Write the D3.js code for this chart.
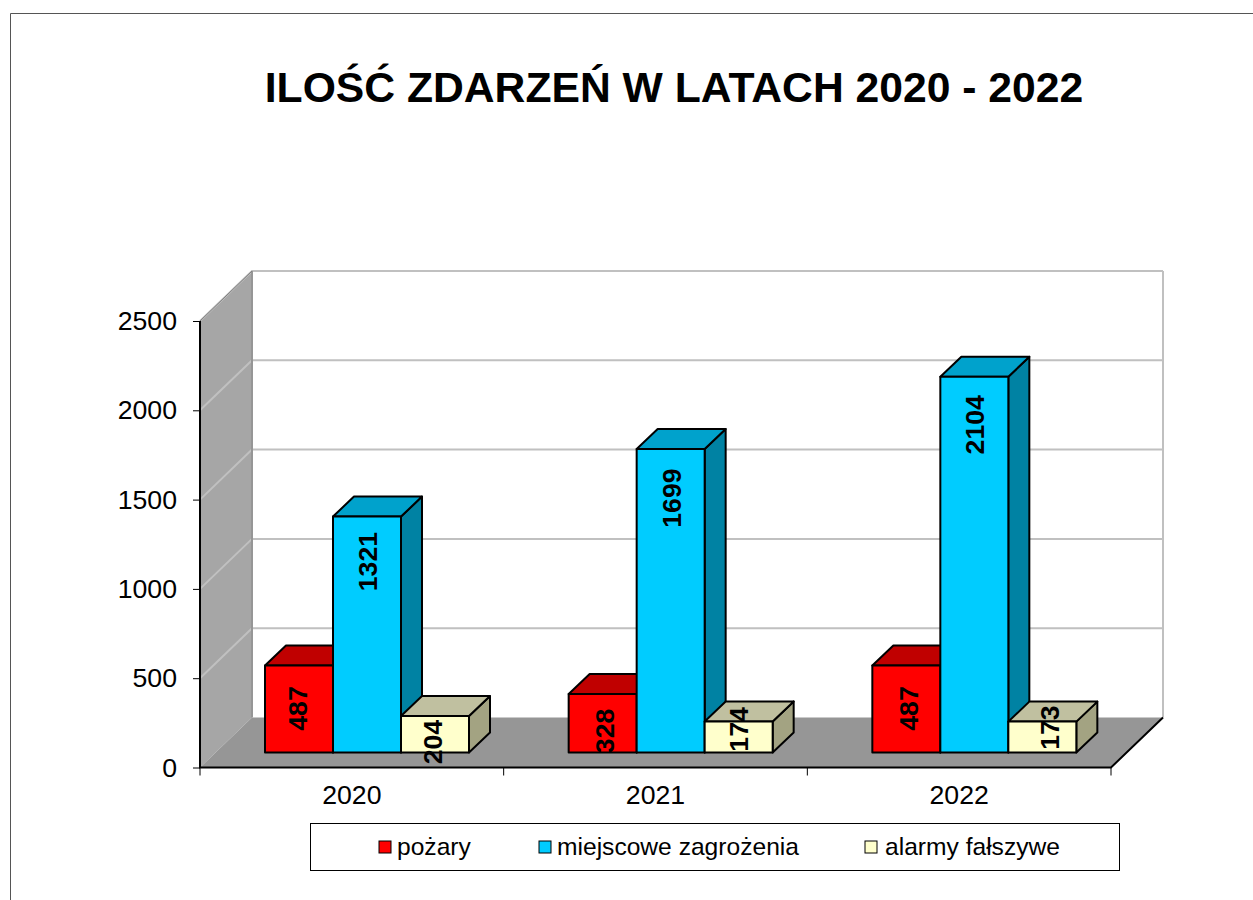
<!DOCTYPE html>
<html>
<head>
<meta charset="utf-8">
<script src="https://d3js.org/d3.v7.min.js"></script>
<style>
	body { margin: 0; background: #fff; overflow: hidden; }
	text { font-family: "Liberation Sans", Arial, sans-serif; fill: #000; }
	.axis path { display: none; }
	.axis text { font-size: 26.67px; }
	.axis line { stroke: #000; stroke-width: 1; }
</style>
</head>
<body>
<div id="vis"></div>
<script>
var years = ["2020", "2021", "2022"];
var seriesNames = ["pożary", "miejscowe zagrożenia", "alarmy fałszywe"];
var pozary = [487, 328, 487];
var miejscowe = [1321, 1699, 2104];
var alarmy = [204, 174, 173];
var yTicks = [0, 500, 1000, 1500, 2000, 2500];

var width = 1253,
	height = 900;

// how far below the bar top each rotated label sits, per series / year
var labelDrop = [[43, 37, 43], [45, 49, 48], [26, 8, 6]];
// the labels are not quite centred on their bars either
var labelShift = [[-1, 2, 2], [1, 1, 0], [-2, 0, 7]];

var faces = [
	{front: "#ff0000", top: "#c00000", side: "#a00000"},
	{front: "#00ccff", top: "#00a2cc", side: "#0082a3"},
	{front: "#ffffcc", top: "#c0c0a0", side: "#a3a382"}
];

var left = 200, right = 1111, bottom = 767.5, topY = 321;
var wallDx = 52, wallDy = -50;   // depth of the box
var barDx = 21, barDy = -20;     // depth of a bar
var barBase = 15;                // bars stand this far back on the floor

var x = d3.scaleBand().domain(years).range([left, right]);
var xInner = d3.scaleBand().domain(d3.range(3)).range([65, 269]);
var y = d3.scaleLinear().domain([0, 2500]).range([bottom, topY]);

var svg = d3.select("#vis").append("svg")
	.attr("width", width)
	.attr("height", height);

// outer frame, only top and left show
svg.append("path")
	.attr("d", "M10.5,900V13.5H1253")
	.attr("fill", "none")
	.attr("stroke", "#555")
	.attr("stroke-width", 1);

svg.append("text")
	.attr("x", 674)
	.attr("y", 102)
	.attr("text-anchor", "middle")
	.style("font-size", "42.67px")
	.style("font-weight", "bold")
	.text("ILOŚĆ ZDARZEŃ W LATACH 2020 - 2022");

// side wall
svg.append("path")
	.attr("d", d3.line()([[left, y(2500)], [left + wallDx, y(2500) + wallDy], [left + wallDx, y(0) + wallDy], [left, y(0)]]))
	.attr("fill", "#a6a6a6");

// floor
svg.append("path")
	.attr("d", d3.line()([[left, y(0)], [right, y(0)], [right + wallDx, y(0) + wallDy], [left + wallDx, y(0) + wallDy]]))
	.attr("fill", "#969696");

// gridlines, along the side wall and across the back
svg.append("g").selectAll("path")
	.data(yTicks.slice(1))
	.enter()
	.append("path")
	.attr("d", function(d) {
		return d3.line()([[left, y(d)], [left + wallDx, y(d) + wallDy], [right + wallDx, y(d) + wallDy]]);
	})
	.attr("fill", "none")
	.attr("stroke", "#c0c0c0")
	.attr("stroke-width", 2);

// back wall edges
svg.append("path")
	.attr("d", d3.line()([[left + wallDx, y(0) + wallDy], [left + wallDx, y(2500) + wallDy]]))
	.attr("stroke", "#969696")
	.attr("stroke-width", 2);
svg.append("path")
	.attr("d", d3.line()([[right + wallDx, y(0) + wallDy], [right + wallDx, y(2500) + wallDy]]))
	.attr("stroke", "#c0c0c0")
	.attr("stroke-width", 2);

// front edges of the box
svg.append("path")
	.attr("d", d3.line()([[left, y(2500)], [left, y(0)], [right, y(0)], [right + wallDx, y(0) + wallDy]]))
	.attr("fill", "none")
	.attr("stroke", "#000")
	.attr("stroke-width", 2);
svg.append("path")
	.attr("d", d3.line()([[left, y(2500)], [left + wallDx, y(2500) + wallDy]]))
	.attr("stroke", "#808080")
	.attr("stroke-width", 1);

// axes
svg.append("g")
	.attr("class", "axis")
	.attr("transform", "translate(" + left + ",0)")
	.call(d3.axisLeft(y).tickValues(yTicks).tickSize(7).tickPadding(16).tickFormat(d3.format("d")));

svg.append("g")
	.attr("class", "axis")
	.attr("transform", "translate(0," + bottom + ")")
	.call(d3.axisBottom(x).tickSize(0).tickPadding(18));

svg.append("g")
	.attr("class", "axis")
	.selectAll("line")
	.data(d3.range(years.length + 1))
	.enter()
	.append("line")
	.attr("x1", function(i) { return left + i * x.bandwidth(); })
	.attr("x2", function(i) { return left + i * x.bandwidth(); })
	.attr("y1", bottom)
	.attr("y2", bottom + 8);

// bars
var allSeries = [pozary, miejscowe, alarmy];
var barH = function(v) { return y(0) - y(v); };
var baseY = y(0) - barBase;

function poly(points) {
	return d3.line()(points) + "Z";
}

years.forEach(function(year, yi) {
	var g = svg.append("g");

	allSeries.forEach(function(values, si) {
		var x0 = x(year) + xInner(si),
			x1 = x0 + xInner.bandwidth(),
			y1 = baseY - barH(values[yi]);

		var bar = g.append("g")
			.attr("stroke", "#000")
			.attr("stroke-width", 2)
			.attr("stroke-linejoin", "round");

		bar.append("path")
			.attr("d", poly([[x1, y1], [x1 + barDx, y1 + barDy], [x1 + barDx, baseY + barDy], [x1, baseY]]))
			.attr("fill", faces[si].side);
		bar.append("path")
			.attr("d", poly([[x0, y1], [x0 + barDx, y1 + barDy], [x1 + barDx, y1 + barDy], [x1, y1]]))
			.attr("fill", faces[si].top);
		bar.append("rect")
			.attr("x", x0)
			.attr("y", y1)
			.attr("width", x1 - x0)
			.attr("height", baseY - y1)
			.attr("fill", faces[si].front);
	});
});

// value labels go on top of everything
years.forEach(function(year, yi) {
	allSeries.forEach(function(values, si) {
		var cx = x(year) + xInner(si) + xInner.bandwidth() / 2 + labelShift[si][yi],
			cy = baseY - barH(values[yi]) + labelDrop[si][yi];

		svg.append("text")
			.attr("transform", "translate(" + cx + "," + cy + ") rotate(-90)")
			.attr("text-anchor", "middle")
			.attr("dy", "0.35em")
			.style("font-size", "26.67px")
			.style("font-weight", "bold")
			.text(values[yi]);
	});
});

// legend
svg.append("rect")
	.attr("x", 310.5)
	.attr("y", 823.5)
	.attr("width", 809)
	.attr("height", 47)
	.attr("fill", "#fff")
	.attr("stroke", "#000")
	.attr("stroke-width", 1);

var legendX = [379, 539, 865];
var legend = svg.append("g").selectAll("g")
	.data(seriesNames)
	.enter()
	.append("g")
	.attr("transform", function(d, i) { return "translate(" + legendX[i] + ",841)"; });

legend.append("rect")
	.attr("width", 12)
	.attr("height", 12)
	.attr("fill", function(d, i) { return faces[i].front; })
	.attr("stroke", "#000")
	.attr("stroke-width", 1);

legend.append("text")
	.attr("x", function(d, i) { return i == 2 ? 20 : 18; })
	.attr("y", 14)
	.style("font-size", "24.6px")
	.text(function(d) { return d; });
</script>
</body>
</html>
